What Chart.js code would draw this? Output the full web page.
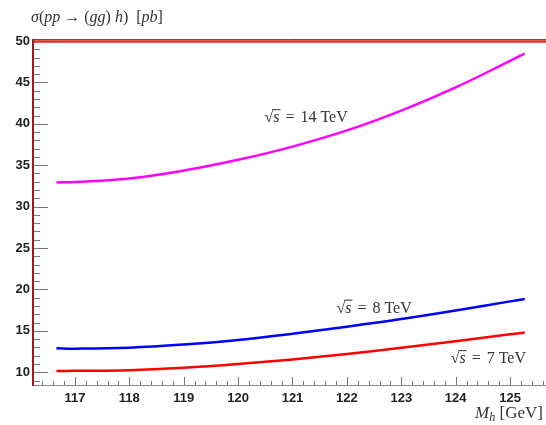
<!DOCTYPE html>
<html>
<head>
<meta charset="utf-8">
<script src="https://cdn.jsdelivr.net/npm/chart.js@4"></script>
<style>
  html, body { margin: 0; padding: 0; background: #fff; }
  #wrap { width: 546px; height: 425px; }
</style>
</head>
<body>
<div id="wrap"><canvas id="myChart"></canvas></div>
<script>
// Higgs mass points (GeV) and cross sections (pb)
const mh = [116.66, 117, 118, 119, 120, 121, 122, 123, 124, 125, 125.27];
const xs14 = [32.92, 32.98, 33.4, 34.35, 35.65, 37.25, 39.2, 41.6, 44.4, 47.6, 48.49];
const xs8 = [12.9, 12.85, 12.97, 13.35, 13.9, 14.65, 15.5, 16.42, 17.45, 18.56, 18.85];
const xs7 = [10.15, 10.17, 10.25, 10.55, 11.0, 11.55, 12.2, 12.95, 13.75, 14.58, 14.8];

const xTicks = [117, 118, 119, 120, 121, 122, 123, 124, 125];
const yTicks = [10, 15, 20, 25, 30, 35, 40, 45, 50];

// labels next to each curve: [text after sqrt(s), x, y]
const curveLabels = [
    ["14 TeV", 121.25, 40.8],
    ["8 TeV", 122.5, 17.8],
    ["7 TeV", 124.6, 11.7]
];

const serif = "'Liberation Serif', 'DejaVu Serif', serif";

function drawParts(ctx, parts, x, y, size) {
    // parts: [text, italic, sub]
    let cx = x;
    parts.forEach(p => {
        const s = p[2] ? size * 0.72 : size;
        ctx.font = (p[1] ? "italic " : "") + s + "px " + serif;
        ctx.fillText(p[0], cx, p[2] ? y + 3 : y);
        cx += ctx.measureText(p[0]).width;
    });
    return cx - x;
}

function partsWidth(ctx, parts, size) {
    let w = 0;
    parts.forEach(p => {
        const s = p[2] ? size * 0.72 : size;
        ctx.font = (p[1] ? "italic " : "") + s + "px " + serif;
        w += ctx.measureText(p[0]).width;
    });
    return w;
}

const framePlugin = {
    id: "frame",
    afterDatasetsDraw(chart) {
        const ctx = chart.ctx;
        const a = chart.chartArea;
        const xs = chart.scales.x;
        const ys = chart.scales.y;
        ctx.save();

        // x axis minor / major ticks (pointing up)
        ctx.strokeStyle = "#777";
        ctx.lineWidth = 1;
        for (let i = Math.ceil(xs.min * 5); i <= xs.max * 5; i++) {
            const v = i / 5;
            const px = Math.round(xs.getPixelForValue(v)) + 0.5;
            const len = (i % 5 === 0) ? 8 : 4;
            ctx.beginPath();
            ctx.moveTo(px, a.bottom);
            ctx.lineTo(px, a.bottom - len);
            ctx.stroke();
        }
        // y axis ticks (pointing right)
        for (let v = Math.ceil(ys.min); v <= ys.max; v++) {
            const py = Math.round(ys.getPixelForValue(v)) + 0.5;
            const len = (v % 5 === 0) ? 15 : 7;
            ctx.beginPath();
            ctx.moveTo(a.left, py);
            ctx.lineTo(a.left + len, py);
            ctx.stroke();
        }

        // bottom axis
        ctx.strokeStyle = "#888";
        ctx.beginPath();
        ctx.moveTo(a.left, a.bottom + 0.5);
        ctx.lineTo(a.right, a.bottom + 0.5);
        ctx.stroke();

        // top frame: dark line with red below
        ctx.strokeStyle = "#555";
        ctx.beginPath();
        ctx.moveTo(a.left, a.top - 1.5);
        ctx.lineTo(a.right, a.top - 1.5);
        ctx.stroke();
        ctx.strokeStyle = "#e8241c";
        ctx.lineWidth = 2.5;
        ctx.beginPath();
        ctx.moveTo(a.left, a.top + 0.5);
        ctx.lineTo(a.right, a.top + 0.5);
        ctx.stroke();

        // left axis
        ctx.strokeStyle = "#a01818";
        ctx.lineWidth = 2;
        ctx.beginPath();
        ctx.moveTo(a.left, a.top - 2);
        ctx.lineTo(a.left, a.bottom + 1);
        ctx.stroke();

        // curve labels: sqrt(s) = N TeV
        ctx.fillStyle = "#333";
        ctx.textBaseline = "alphabetic";
        const size = 16;
        curveLabels.forEach(l => {
            ctx.font = size + "px " + serif;
            const rw = ctx.measureText("\u221A").width;
            const eqw = ctx.measureText("=").width;
            const tw = ctx.measureText(l[0]).width;
            ctx.font = "italic " + size + "px " + serif;
            const sw = ctx.measureText("s").width;
            const w = rw + sw + 6 + eqw + 6 + tw;
            let cx = xs.getPixelForValue(l[1]) - w / 2;
            const y0 = ys.getPixelForValue(l[2]) + 5;
            ctx.font = size + "px " + serif;
            ctx.fillText("\u221A", cx, y0);
            cx += rw;
            ctx.font = "italic " + size + "px " + serif;
            ctx.fillText("s", cx, y0);
            // overline of the root
            ctx.strokeStyle = "#333";
            ctx.lineWidth = 1;
            ctx.beginPath();
            ctx.moveTo(cx - 1, y0 - 12.5);
            ctx.lineTo(cx + sw + 1, y0 - 12.5);
            ctx.stroke();
            cx += sw + 6;
            ctx.font = size + "px " + serif;
            ctx.fillText("=", cx, y0);
            cx += eqw + 6;
            ctx.fillText(l[0], cx, y0);
        });

        // y title
        drawParts(ctx, [["\u03C3", true], ["(", false], ["pp", true], [" \u2192 (", false],
            ["gg", true], [") ", false], ["h", true], [")  [", false], ["pb", true], ["]", false]],
            31, 22, 16);

        // x title, right aligned
        const xt = [["M", true], ["h", true, true], [" [GeV]", false]];
        const xw = partsWidth(ctx, xt, 17);
        drawParts(ctx, xt, chart.width - 3 - xw, 418, 17);

        ctx.restore();
    }
};

function line(data, color) {
    return {
        data: data.map((v, i) => ({ x: mh[i], y: v })),
        borderColor: color,
        borderWidth: 2.5,
        pointRadius: 0,
        fill: false,
        tension: 0.4
    };
}

const tickFont = { family: "'Liberation Sans', Arial, sans-serif", size: 13, weight: "bold" };

new Chart(document.getElementById("myChart"), {
    type: "line",
    data: {
        datasets: [
            line(xs14, "#ff00ff"),
            line(xs8, "#0000ff"),
            line(xs7, "#ff0000")
        ]
    },
    options: {
        responsive: true,
        maintainAspectRatio: false,
        animation: false,
        layout: { padding: { top: 41, right: 0, left: 0, bottom: 0 } },
        plugins: {
            legend: { display: false },
            tooltip: { enabled: false }
        },
        scales: {
            x: {
                type: "linear",
                min: 116.23,
                max: 125.66,
                border: { display: false },
                grid: { display: false, drawTicks: false },
                afterBuildTicks: s => { s.ticks = xTicks.map(v => ({ value: v })); },
                afterFit: s => { s.height = 40; },
                ticks: { padding: 6, color: "#222", font: tickFont, maxRotation: 0 }
            },
            y: {
                min: 8.46,
                max: 50,
                border: { display: false },
                grid: { display: false, drawTicks: false },
                afterBuildTicks: s => { s.ticks = yTicks.map(v => ({ value: v })); },
                afterFit: s => { s.width = 33; },
                ticks: { padding: 3, color: "#222", font: tickFont }
            }
        }
    },
    plugins: [framePlugin]
});
</script>
</body>
</html>
